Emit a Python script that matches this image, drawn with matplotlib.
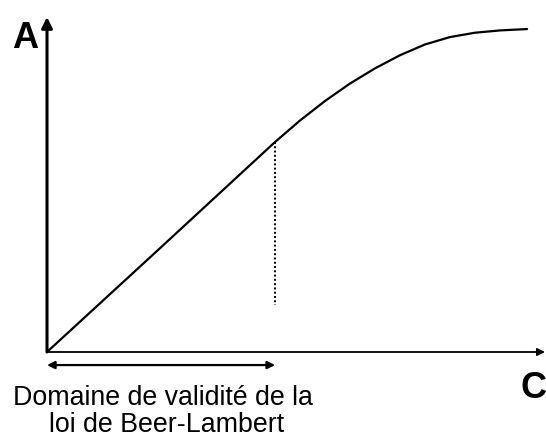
import matplotlib
matplotlib.use("Agg")
import matplotlib.pyplot as plt

# Courbe A = f(C) (C de 0 a 10, A de 0 a 1)
concentration = [0.0, 2.27, 4.58, 5.08, 5.58, 6.08, 6.59, 7.09, 7.59, 8.09, 8.59, 9.10, 9.64]
absorbance = [0.0, 0.310, 0.627, 0.691, 0.749, 0.801, 0.847, 0.886, 0.918, 0.940, 0.953, 0.960, 0.964]

limite_validite = 4.58          # fin du domaine lineaire
a_limite = 0.627
bas_pointille = 0.14

ligne1 = "Domaine de validité de la"
ligne2 = "loi de Beer-Lambert"

fig = plt.figure(figsize=(5.46, 4.37), dpi=100)
ax = fig.add_axes([47 / 546, 85 / 437, 498 / 546, 335 / 437])
ax.set_xlim(0, 10)
ax.set_ylim(0, 1)
ax.axis("off")

# axes avec fleches
ax.annotate("", xy=(0, 1.0), xytext=(0, 0), annotation_clip=False,
            arrowprops=dict(arrowstyle="-|>", lw=2.2, color="black", mutation_scale=16,
                            shrinkA=0, shrinkB=0))
ax.annotate("", xy=(10.0, 0), xytext=(0, 0), annotation_clip=False,
            arrowprops=dict(arrowstyle="-|>", lw=1.3, color="black", mutation_scale=11,
                            shrinkA=0, shrinkB=0))

ax.plot(concentration, absorbance, color="black", lw=1.6, solid_capstyle="round",
        solid_joinstyle="round", clip_on=False)

# trait pointille a la limite
ax.plot([limite_validite, limite_validite], [a_limite, bas_pointille], color="black",
        lw=1.4, linestyle=(0, (1, 1.2)))

# double fleche du domaine de validite
ax.annotate("", xy=(limite_validite, -0.039), xytext=(0, -0.039), annotation_clip=False,
            arrowprops=dict(arrowstyle="<|-|>", lw=1.6, color="black", mutation_scale=11,
                            shrinkA=0, shrinkB=0))

fig.text(25 / 546, 1 - 38 / 437, "A", fontsize=26, fontweight="bold",
         family="Liberation Sans", ha="center", va="center")
fig.text(534 / 546, 1 - 388 / 437, "C", fontsize=26, fontweight="bold",
         family="Liberation Sans", ha="center", va="center")
fig.text(163 / 546, 1 - 405 / 437, ligne1, fontsize=19.3, family="Liberation Sans",
         ha="center", va="baseline")
fig.text(167 / 546, 1 - 432 / 437, ligne2, fontsize=19.3, family="Liberation Sans",
         ha="center", va="baseline")

fig.savefig("out.png", dpi=100, facecolor="white")
